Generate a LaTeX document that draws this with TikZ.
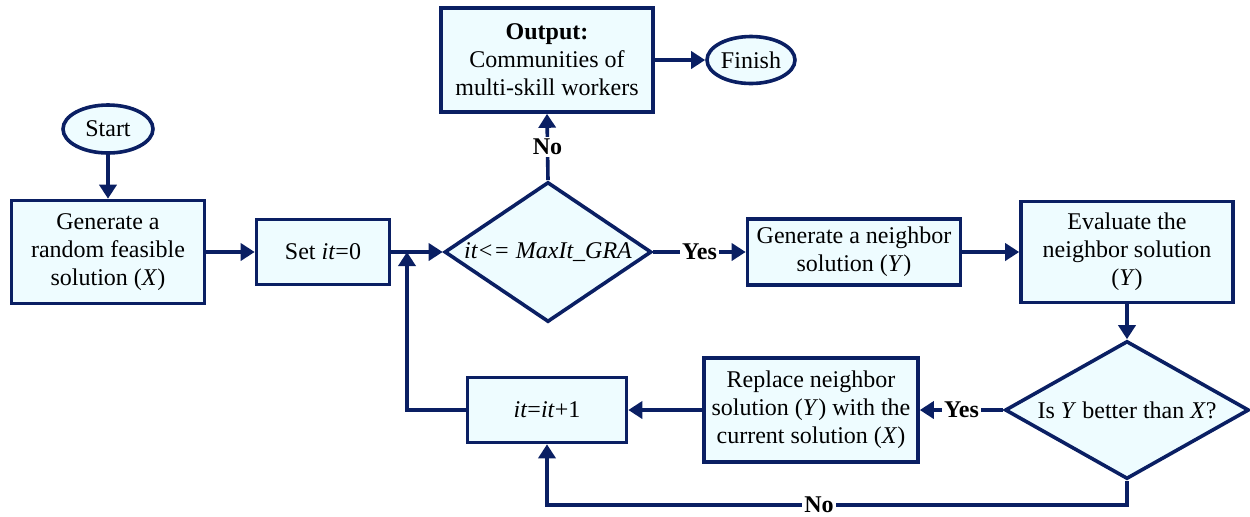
\documentclass[tikz,border=0pt]{standalone}
\usepackage{fontspec}
\setmainfont{Liberation Serif}
\usetikzlibrary{shapes.geometric,arrows.meta}
\definecolor{navy}{HTML}{0A1F63}
\definecolor{boxfill}{HTML}{EEFCFF}
\begin{document}
\begin{tikzpicture}[x=0.5pt,y=-0.5pt,
  every node/.style={font=\fontsize{12pt}{14pt}\selectfont, text=black},
  box/.style={draw=navy, fill=boxfill, line width=1.8pt, rectangle, align=center, inner sep=1pt},
  term/.style={draw=navy, fill=boxfill, line width=1.8pt, ellipse, inner sep=0pt},
  decision/.style={draw=navy, fill=boxfill, line width=1.8pt, diamond, inner sep=0pt, aspect=1.6},
  conn/.style={draw=navy, line width=1.8pt, -{Triangle[length=7pt,width=8.5pt]}},
  lbl/.style={font=\bfseries\fontsize{12pt}{14pt}\selectfont, fill=white, inner sep=1pt}
]
\useasboundingbox (0,0) rectangle (1250,516);

\node[term, minimum width=45pt, minimum height=24pt] (start) at (108,129) {Start};
\node[box, minimum width=96.5pt, minimum height=51.5pt] (gen) at (108,252) {Generate a\\random feasible\\solution (\textit{X})};
\node[box, minimum width=66.5pt, minimum height=32.5pt] (set) at (323,252) {Set \textit{it}=0};
\node[decision, minimum width=103.5pt, minimum height=70pt] (d1) at (548,252) {\textit{it<= MaxIt\_GRA}};
\node[box, minimum width=106pt, minimum height=52pt] (out) at (547,60) {\textbf{Output:}\\Communities of\\multi-skill workers};
\node[term, minimum width=44pt, minimum height=23.5pt] (fin) at (751,60) {Finish};
\node[box, minimum width=106.5pt, minimum height=33pt] (gn) at (854,252) {Generate a neighbor\\solution (\textit{Y})};
\node[box, minimum width=106pt, minimum height=50.5pt] (ev) at (1127,252) {Evaluate the\\neighbor solution\\(\textit{Y})};
\node[decision, minimum width=122pt, minimum height=69pt, aspect=1.8] (d2) at (1127,410) {Is \textit{Y} better than \textit{X}?};
\node[box, minimum width=107pt, minimum height=52pt] (rep) at (811,410) {Replace neighbor\\solution (\textit{Y}) with the\\current solution (\textit{X})};
\node[box, minimum width=79.5pt, minimum height=32.5pt] (inc) at (547,410) {\textit{it}=\textit{it}+1};

\coordinate (j) at (407,252);
\coordinate (bl) at (547,505);
\coordinate (br) at (1127,505);

\draw[conn] (start) -- (gen);
\draw[conn] (gen.east) -- (set.west);
\draw[conn] (set.east) -- (d1.west);
\draw[conn] (d1.north) -- node[lbl] {No} (out.south);
\draw[conn] (out.east) -- (fin.west);
\draw[conn] (d1.east) -- node[lbl] {Yes} (gn.west);
\draw[conn] (gn.east) -- (ev.west);
\draw[conn] (ev.south) -- (d2.north);
\draw[conn] (d2.west) -- node[lbl] {Yes} (rep.east);
\draw[conn] (rep.west) -- (inc.east);
\draw[conn] (inc.west) -| (j);
\draw[conn] (d2.south) -- (br) -- (bl) -- (inc.south);
\node[lbl] (nolbl) at (819,505) {No};
\end{tikzpicture}
\end{document}
